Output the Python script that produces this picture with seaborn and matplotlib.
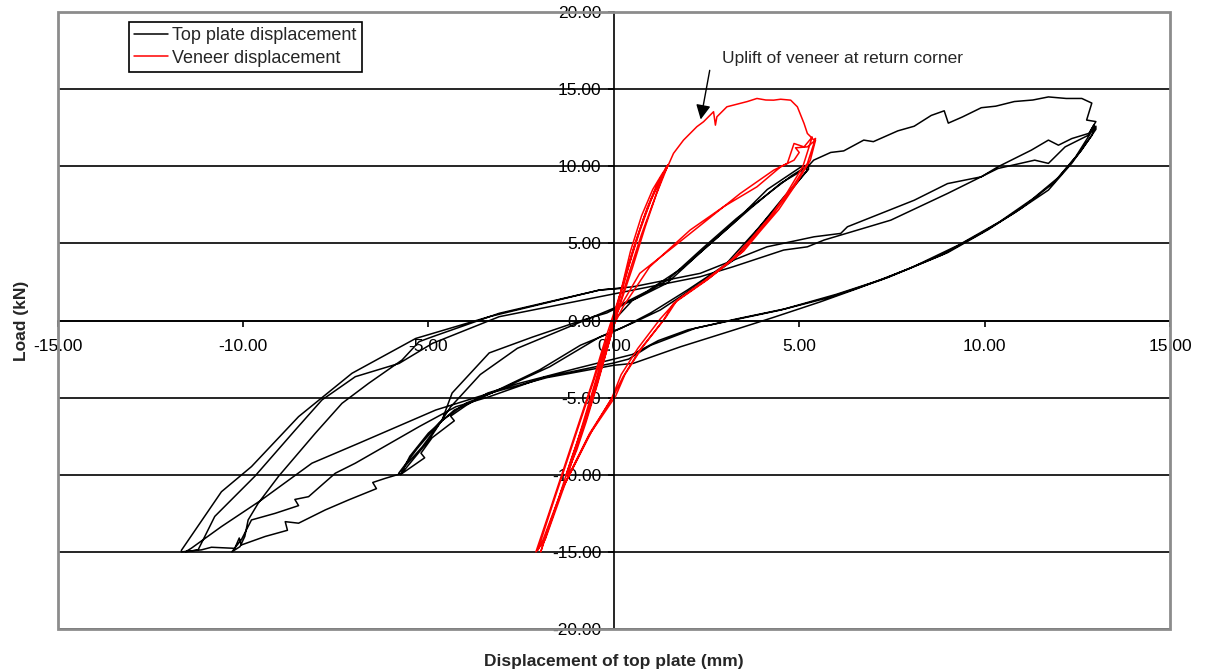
import numpy as np
import pandas as pd
import matplotlib
matplotlib.use('Agg')
import matplotlib.pyplot as plt
import seaborn as sns
from matplotlib.patches import Rectangle

# Top plate displacement (mm), load (kN) - traced branches in loading order
top_up1 = [(0.0, 0.0), (0.5, 1.3), (1.44, 2.43), (2.33, 4.4), (3.22, 6.3), (4.14, 8.5), (5.04, 9.95), (5.25, 10.1)]
top_dn1 = [(5.25, 9.8), (4.58, 8.0), (4.14, 6.7), (3.22, 3.9), (2.33, 2.4), (1.25, 0.68), (0.51, -0.16), (-0.38, -1.07),
           (-1.73, -3.0), (-3.09, -4.5), (-3.98, -5.35), (-4.7, -6.6), (-5.3, -8.3), (-5.8, -9.9)]
top_up2 = [(-5.8, -9.9), (-5.17, -8.2), (-4.63, -6.45), (-4.36, -4.7), (-3.36, -2.1), (-2.19, -1.07), (-0.84, 0.03),
           (-0.19, 0.49), (0.51, 1.33), (1.44, 2.6), (2.4, 4.7), (3.3, 6.6), (4.2, 8.3), (4.8, 9.4), (5.2, 10.0)]
top_dn2 = [(5.2, 9.7), (4.7, 8.2), (3.9, 6.0), (3.0, 3.6), (2.0, 2.0), (1.0, 0.5), (0.2, -0.5), (-0.9, -1.6),
           (-2.0, -3.2), (-3.3, -4.7), (-4.3, -5.8), (-5.0, -7.3), (-5.5, -8.8), (-5.75, -10.0)]
top_up3 = [(-5.75, -10.0), (-5.0, -7.8), (-4.4, -5.6), (-3.6, -3.5), (-2.6, -1.8), (-1.3, -0.5), (0.0, 0.8),
           (0.9, 1.9), (1.9, 3.5), (2.8, 5.4), (3.7, 7.3), (4.5, 8.9), (5.2, 9.9)]
top_env_pos = [(5.39, 10.4), (5.85, 10.9), (6.2, 11.0), (6.74, 11.7), (7.0, 11.6), (7.66, 12.3), (8.1, 12.6),
               (8.56, 13.3), (8.91, 13.6), (9.02, 12.8), (9.4, 13.2), (9.91, 13.8), (10.3, 13.9), (10.8, 14.2),
               (11.3, 14.3), (11.72, 14.5), (12.2, 14.4), (12.62, 14.4), (12.89, 14.1), (12.75, 13.0),
               (13.0, 12.9), (12.85, 12.3), (12.97, 12.5), (12.89, 12.0)]
top_unl1 = [(12.89, 12.0), (12.35, 10.2), (11.72, 8.46), (10.8, 6.97), (9.91, 5.67), (8.83, 4.24), (7.2, 2.62),
            (5.85, 1.52), (4.5, 0.68), (3.22, 0.03), (2.0, -0.6), (1.2, -1.3), (0.5, -2.2), (0.0, -2.5),
            (-1.0, -3.1), (-1.8, -3.6), (-2.6, -4.1), (-3.4, -4.7)]
top_dn_jag = [(-3.98, -5.5), (-4.4, -6.2), (-4.3, -6.5), (-4.9, -7.6), (-5.2, -8.6), (-5.1, -8.9), (-5.7, -9.9)]
top_env_neg = [(-6.16, -10.23), (-6.5, -10.5), (-6.4, -10.9), (-7.15, -11.63), (-7.78, -12.28), (-8.5, -13.14),
               (-8.86, -13.04), (-8.8, -13.6), (-9.4, -14.0), (-10.04, -14.55), (-10.1, -14.1), (-10.22, -14.77),
               (-10.85, -14.7), (-11.12, -14.87), (-11.66, -15.0)]
top_rel_a = [(-11.66, -14.9), (-10.58, -11.1), (-9.77, -9.47), (-8.5, -6.23), (-7.06, -3.42), (-5.34, -1.16),
             (-3.36, 0.25), (-1.73, 1.2), (-0.38, 1.98), (0.52, 2.19)]
top_s1 = [(0.52, 2.19), (2.33, 3.06), (4.13, 4.78), (5.4, 5.43), (6.12, 5.65), (6.3, 6.08), (7.2, 6.94), (8.1, 7.8),
          (9.0, 8.88), (9.91, 9.32), (10.36, 9.97), (11.26, 11.05), (11.72, 11.7), (11.99, 11.37), (12.35, 11.8),
          (12.8, 12.13), (13.0, 12.6)]
top_unl2 = [(13.0, 12.4), (12.6, 11.0), (12.0, 9.3), (11.3, 7.9), (10.4, 6.4), (9.3, 4.9), (8.0, 3.4), (6.6, 2.1),
            (5.58, 1.22), (4.3, 0.2), (3.23, -0.62), (1.8, -1.7), (0.52, -2.78), (0.0, -2.9), (-1.8, -3.7),
            (-3.36, -4.72)]
top_load_d = [(-4.8, -5.8), (-6.88, -7.96), (-8.14, -9.25), (-9.5, -11.63), (-10.58, -13.36), (-11.39, -14.76),
              (-11.55, -15.0)]
top_rel_c = [(-11.21, -14.87), (-11.12, -14.44), (-10.76, -12.7), (-9.68, -10.1), (-8.59, -7.1), (-7.87, -5.15),
             (-6.97, -3.64), (-5.79, -2.78), (-4.89, -1.48), (-3.09, 0.25), (-1.73, 0.9), (-0.38, 1.54), (0.07, 1.76)]
top_s2 = [(0.07, 1.76), (2.33, 2.84), (3.22, 3.49), (4.58, 4.57), (5.22, 4.78), (5.67, 5.22), (7.47, 6.51),
          (9.0, 8.24), (10.36, 9.86), (11.35, 10.4), (11.72, 10.19), (12.17, 11.26), (12.8, 12.02), (12.95, 12.7)]
top_unl3 = [(12.95, 12.5), (12.45, 10.6), (11.85, 8.9), (11.0, 7.3), (10.1, 5.9), (9.0, 4.4), (7.4, 2.8),
            (6.0, 1.7), (4.6, 0.75), (3.3, 0.1), (2.2, -0.5), (1.0, -1.6), (0.4, -2.5), (0.0, -2.75),
            (-1.9, -3.7), (-3.36, -4.94)]
top_load_e = [(-4.26, -5.59), (-5.25, -6.88), (-6.97, -9.25), (-7.51, -9.9), (-8.23, -11.42), (-8.6, -11.6),
              (-8.5, -12.0), (-9.13, -12.5), (-9.77, -12.93), (-10.04, -14.2), (-10.3, -15.0)]
top_rel_b = [(-10.08, -14.66), (-9.95, -14.0), (-9.86, -12.93), (-9.59, -11.85), (-9.04, -10.1), (-8.05, -7.31),
             (-7.33, -5.37), (-6.61, -4.07), (-5.71, -2.56), (-5.25, -1.37), (-4.89, -1.05), (-3.09, 0.47),
             (-0.38, 1.98), (0.3, 2.1)]

# Veneer displacement (mm), load (kN)
ven_up_a = [(0.0, 0.0), (0.2, 2.0), (0.45, 4.5), (0.75, 6.8), (1.05, 8.5), (1.3, 9.5), (1.47, 10.1)]
ven_dn_a = [(1.4, 9.9), (1.1, 7.9), (0.75, 5.6), (0.4, 3.0), (0.1, 0.6), (-0.2, -2.0), (-0.5, -4.5), (-0.8, -6.8),
            (-1.05, -8.6), (-1.25, -10.0)]
ven_up_b = [(-0.95, -7.8), (-0.6, -5.0), (-0.3, -2.5), (0.0, 0.2), (0.3, 2.8), (0.6, 5.2), (0.9, 7.3), (1.2, 9.0),
            (1.45, 10.0)]
ven_dn_b = [(1.15, 8.2), (0.85, 6.1), (0.5, 3.4), (0.15, 0.9), (-0.15, -1.6), (-0.45, -4.2), (-0.75, -6.6),
            (-1.0, -8.4), (-1.3, -10.1)]
ven_up_c = [(-1.0, -8.0), (-0.7, -5.6), (-0.35, -2.8), (-0.05, -0.2), (0.25, 2.2), (0.5, 4.4), (0.8, 6.6),
            (1.1, 8.4), (1.35, 9.6), (1.47, 10.08)]
ven_uplift = [(1.61, 10.84), (1.88, 11.7), (2.24, 12.57), (2.42, 12.89), (2.69, 13.54), (2.74, 12.67),
              (2.78, 13.21), (3.05, 13.86), (3.41, 14.08), (3.6, 14.2), (3.86, 14.4), (4.1, 14.3), (4.31, 14.29),
              (4.5, 14.35), (4.77, 14.29), (4.95, 13.86), (5.13, 12.78), (5.22, 12.13), (5.4, 11.7), (5.44, 11.81)]
ven_unl1 = [(5.22, 10.19), (4.77, 8.46), (4.31, 6.95), (3.86, 5.65), (3.41, 4.35), (2.51, 2.62), (1.61, 1.11),
            (1.34, 0.03), (0.7, -1.91), (0.25, -3.64), (-0.02, -4.94), (-0.65, -7.31), (-1.37, -10.77),
            (-1.91, -14.23), (-2.05, -14.9)]
ven_up_d = [(-1.7, -12.3), (-1.3, -9.4), (-0.9, -6.5), (-0.5, -3.6), (-0.15, -1.0), (0.07, 0.47)]
ven_wide1 = [(0.7, 3.06), (1.61, 4.78), (2.51, 6.51), (3.41, 8.24), (4.31, 9.75), (4.68, 10.19), (4.86, 11.48),
             (5.13, 11.26), (5.35, 11.9)]
ven_unl2 = [(5.1, 10.0), (4.65, 8.2), (4.2, 6.7), (3.7, 5.3), (3.2, 4.0), (2.4, 2.5), (1.7, 1.3), (1.4, 0.5),
            (1.25, 0.1), (0.65, -1.8), (0.2, -3.5), (-0.05, -5.0), (-0.7, -7.6), (-1.4, -11.0), (-1.85, -14.0),
            (-1.97, -15.0)]
ven_up_e = [(-1.55, -12.0), (-1.15, -9.0), (-0.75, -6.2), (-0.35, -3.2), (0.0, -0.3), (0.25, 0.9)]
ven_wide2 = [(0.97, 3.49), (2.06, 5.87), (2.96, 7.38), (3.86, 8.67), (4.5, 9.97), (4.86, 10.4), (5.0, 10.9),
             (4.9, 11.2), (5.22, 11.26), (5.44, 11.7)]
ven_unl3 = [(5.3, 10.4), (4.9, 8.8), (4.45, 7.2), (3.95, 5.8), (3.5, 4.5), (2.6, 2.8), (1.7, 1.3), (1.4, 0.2),
            (0.75, -1.8), (0.3, -3.5), (0.05, -4.9), (-0.6, -7.2), (-1.3, -10.5), (-1.85, -14.2), (-2.1, -15.0)]
ven_up_f = [(-1.75, -12.5), (-1.35, -9.6), (-0.95, -6.7), (-0.55, -3.8), (-0.2, -1.0), (0.1, 1.2), (0.4, 3.5),
            (0.7, 5.8), (1.0, 7.8), (1.3, 9.3), (1.45, 10.0)]

top_branches = [top_up1, top_dn1, top_up2, top_dn2, top_up3, top_env_pos, top_unl1, top_dn_jag, top_env_neg,
                top_rel_a, top_s1, top_unl2, top_load_d, top_rel_c, top_s2, top_unl3, top_load_e, top_rel_b]
ven_branches = [ven_up_a, ven_dn_a, ven_up_b, ven_dn_b, ven_up_c, ven_uplift, ven_unl1, ven_up_d, ven_wide1,
                ven_unl2, ven_up_e, ven_wide2, ven_unl3, ven_up_f]

df_top = pd.DataFrame([p for b in top_branches for p in b], columns=['disp', 'load'])
df_ven = pd.DataFrame([p for b in ven_branches for p in b], columns=['disp', 'load'])

x_ticks = [-15, -10, -5, 0, 5, 10, 15]
y_ticks = [-20, -15, -10, -5, 0, 5, 10, 15, 20]

sns.set_style('white')
plt.rcParams['font.family'] = ['Liberation Sans', 'DejaVu Sans']

fig = plt.figure(figsize=(12.06, 6.72), dpi=100)
ax = fig.add_axes([0.0477, 0.064, 0.9225, 0.918])

sns.lineplot(data=df_top, x='disp', y='load', sort=False, estimator=None, color='black', lw=1.1,
             ax=ax, label='Top plate displacement')
sns.lineplot(data=df_ven, x='disp', y='load', sort=False, estimator=None, color='#ff0000', lw=1.1,
             ax=ax, label='Veneer displacement')

ax.set_xlim(-15, 15)
ax.set_ylim(-20, 20)
ax.set_xticks(x_ticks)
ax.set_yticks(y_ticks)
ax.xaxis.set_major_formatter(matplotlib.ticker.FormatStrFormatter('%.2f'))
ax.yaxis.set_major_formatter(matplotlib.ticker.FormatStrFormatter('%.2f'))

ax.yaxis.grid(True, color='black', lw=1.2)
ax.xaxis.grid(False)
ax.set_axisbelow(True)

for side in ['left', 'bottom']:
    ax.spines[side].set_position('zero')
    ax.spines[side].set_color('black')
    ax.spines[side].set_linewidth(1.2)
for side in ['top', 'right']:
    ax.spines[side].set_visible(False)
ax.add_patch(Rectangle((0, 0), 1, 1, transform=ax.transAxes, fill=False, edgecolor='#8c8c8c',
                       lw=2, clip_on=False, zorder=10))

ax.tick_params(axis='both', direction='out', length=4, width=1.2, labelsize=12.5,
               colors='black', left=True, bottom=True)
ax.tick_params(axis='x', pad=9)
ax.tick_params(axis='y', pad=5)

ax.set_xlabel('Displacement of top plate (mm)', fontsize=12.5, fontweight='bold')
ax.set_ylabel('Load (kN)', fontsize=12.5, fontweight='bold')
ax.xaxis.set_label_coords(0.5, -0.04)
ax.yaxis.set_label_coords(-0.026, 0.5)

ax.annotate('', xy=(2.33, 12.86), xytext=(2.6, 16.4),
            arrowprops=dict(arrowstyle='-|>', color='black', lw=1, mutation_scale=22))
ax.text(2.92, 17.0, 'Uplift of veneer at return corner', fontsize=12.5, ha='left', va='center')

leg = ax.legend(loc='upper left', bbox_to_anchor=(0.064, 0.984), fontsize=13, frameon=True, fancybox=False,
                edgecolor='black', framealpha=1, borderpad=0.3, labelspacing=0.3, handlelength=1.9,
                handletextpad=0.2, borderaxespad=0)
leg.get_frame().set_linewidth(1.2)

fig.savefig('out.png', dpi=100)
